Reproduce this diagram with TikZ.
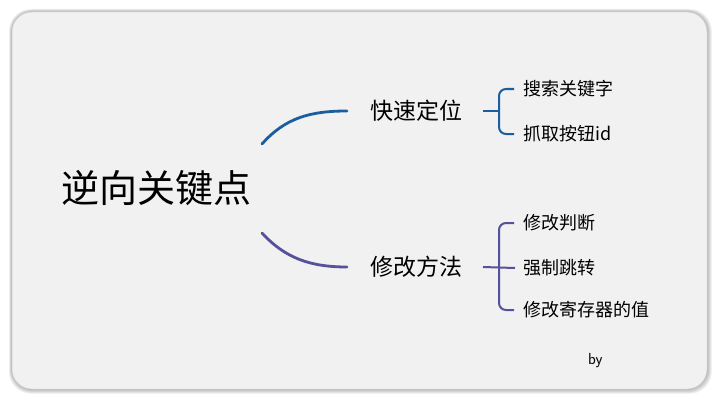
\documentclass[tikz,border=0pt]{standalone}
\usepackage{fontspec}
\newfontfamily\cjk{Noto Sans CJK SC}
\definecolor{bg}{HTML}{F1F1F1}
\definecolor{topc}{HTML}{1B5E9E}
\definecolor{botc}{HTML}{55519B}
\tikzset{
  root/.style={font=\cjk\fontsize{38}{40}\selectfont, inner sep=0pt},
  branch/.style={font=\cjk\fontsize{23}{26}\selectfont, inner sep=0pt},
  leaf/.style={font=\cjk\fontsize{18}{20}\selectfont, inner sep=0pt, anchor=west},
  tline/.style={draw=topc, line width=2.8pt, line cap=round},
  bline/.style={draw=botc, line width=2.8pt, line cap=round},
  tbr/.style={draw=topc, line width=2pt, rounded corners=7pt},
  bbr/.style={draw=botc, line width=2pt, rounded corners=7pt},
}
\begin{document}
\begin{tikzpicture}[x=1pt,y=-1pt]
\useasboundingbox (0,0) rectangle (723,404);
\fill[white] (0,0) rectangle (723,404);
% shadow
\foreach \i in {1,...,6}{
  \fill[black, opacity=0.05, rounded corners=22pt] (12-\i*0.5,12-\i*0.5) rectangle (707+\i*0.8,389+\i*0.8);
}
\fill[bg, rounded corners=20pt, draw=black!18, line width=0.5pt] (12,12) rectangle (707,389);

\node[root] (r) at (156,188) {逆向关键点};
\node[branch] (a) at (416,111) {快速定位};
\node[branch] (b) at (416,267) {修改方法};

\coordinate (rt) at (262,144);
\coordinate (rb) at (262,233);
\coordinate (at) at (347,111);
\coordinate (bt) at (347,267);
\draw[tline] (rt) .. controls (285,118) and (310,111) .. (at);
\draw[bline] (rb) .. controls (285,258) and (310,267) .. (bt);

\node[leaf] (a1) at (523,89) {搜索关键字};
\node[leaf] (a2) at (523,134) {抓取按钮id};
\node[leaf] (b1) at (523,223) {修改判断};
\node[leaf] (b2) at (523,268) {强制跳转};
\node[leaf] (b3) at (523,310) {修改寄存器的值};

\coordinate (as) at (483,111);
\draw[tbr] (as) -- (499,111);
\draw[tbr] (a1.west) ++(-9,0) -- (499,89) -- (499,134) -- ([xshift=-9pt]a2.west);
\coordinate (bs) at (483,267);
\draw[bbr] (bs) -- ([xshift=-8pt]b2.west);
\draw[bbr] (b1.west) ++(-9,0) -- (499,223) -- (499,310) -- ([xshift=-9pt]b3.west);

\node[font=\fontsize{16}{18}\selectfont\sffamily, inner sep=0pt, anchor=west] (by) at (588,361) {by};
\end{tikzpicture}
\end{document}
